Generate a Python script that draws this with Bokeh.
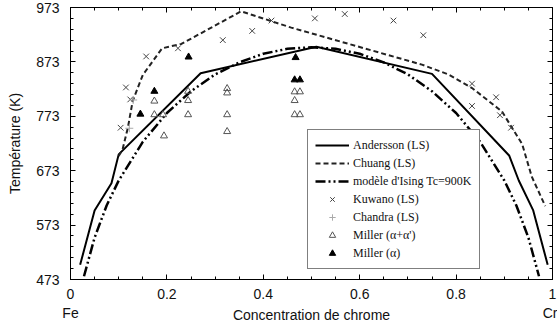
import numpy as np
from bokeh.plotting import figure
from bokeh.models import LinearAxis, FixedTicker, Range1d, Legend, LegendItem
from bokeh.embed import file_html
from bokeh.resources import INLINE

# ---- data ----
x_andersson = [0.02, 0.05, 0.085, 0.10, 0.27, 0.51, 0.75, 0.91, 0.93, 0.96, 0.99]
t_andersson = [500, 600, 650, 703, 852, 901, 851, 701, 655, 600, 500]

x_chuang = [0.10, 0.108, 0.119, 0.129, 0.15, 0.19, 0.23, 0.354, 0.458, 0.729, 0.784, 0.833, 0.895, 0.937, 0.957, 0.985]
t_chuang = [700, 712, 752, 801, 849, 898, 906, 966, 936, 868, 850, 825, 782, 722, 662, 608]

x_ising = [0.028, 0.05, 0.075, 0.10, 0.15, 0.20, 0.25, 0.30, 0.35, 0.40, 0.45, 0.50,
           0.55, 0.60, 0.65, 0.70, 0.75, 0.80, 0.85, 0.90, 0.925, 0.95, 0.972]
t_ising = [479, 550, 609, 655, 726, 779, 819, 850, 872, 888, 897, 900,
           897, 888, 872, 850, 819, 779, 726, 655, 609, 550, 479]

x_kuwano = [0.104, 0.115, 0.124, 0.157, 0.223, 0.316, 0.377, 0.417, 0.507, 0.569,
            0.67, 0.732, 0.833, 0.833, 0.883, 0.891, 0.914]
t_kuwano = [752, 826, 804, 883, 898, 913, 930, 949, 953, 961,
            949, 922, 833, 792, 808, 775, 752]

x_chandra = [0.122, 0.13]
t_chandra = [751, 803]

x_miller_aa = [0.174, 0.174, 0.192, 0.194, 0.244, 0.244, 0.244, 0.325, 0.325, 0.325,
               0.325, 0.465, 0.476, 0.465, 0.465, 0.476]
t_miller_aa = [801, 776, 776, 737, 819, 802, 776, 824, 816, 776,
               745, 818, 818, 802, 776, 776]

x_miller_a = [0.145, 0.174, 0.245, 0.467, 0.465, 0.476]
t_miller_a = [777, 819, 882, 881, 840, 840]

x_ticks = [0, 0.2, 0.4, 0.6, 0.8, 1]
x_tick_labels = ["0", "0.2", "0.4", "0.6", "0.8", "1"]
y_ticks = [473, 573, 673, 773, 873, 973]
y_tick_labels = ["473", "573", "673", "773", "873", "973"]
end_ticks = [0, 1]
end_labels = ["Fe", "Cr"]

FONT = "Liberation Sans"
SERIF = "Liberation Serif"

p = figure(width=557, height=331, output_backend="svg", toolbar_location=None,
           x_range=Range1d(0, 1), y_range=Range1d(473, 973),
           min_border_left=70, min_border_right=5, min_border_top=7, min_border_bottom=52)
p.xgrid.visible = False
p.ygrid.visible = False
p.outline_line_color = "black"
p.outline_line_width = 1
p.background_fill_color = "white"
p.border_fill_color = "white"

x_minor = list(np.round(np.arange(0, 1.0001, 0.05), 3))
y_minor = list(np.arange(473, 974, 20))
xt = FixedTicker(ticks=x_ticks, minor_ticks=x_minor)
yt = FixedTicker(ticks=y_ticks, minor_ticks=y_minor)

def style_axis(ax, labels=True):
    ax.axis_line_color = "black"
    ax.major_tick_in = 5
    ax.major_tick_out = 0
    ax.minor_tick_in = 3
    ax.minor_tick_out = 0
    ax.major_tick_line_color = "black"
    ax.minor_tick_line_color = "black"
    if labels:
        ax.major_label_text_font = FONT
        ax.major_label_text_font_size = "14px"
        ax.major_label_text_color = "#111111"
        ax.axis_label_text_font = FONT
        ax.axis_label_text_font_size = "14px"
        ax.axis_label_text_font_style = "normal"
        ax.axis_label_text_color = "#111111"
    else:
        ax.major_label_text_color = None
        ax.major_label_text_font_size = "1px"
        ax.major_label_standoff = 0

xa = p.xaxis[0]
xa.ticker = xt
xa.major_label_overrides = {t: l for t, l in zip(x_ticks, x_tick_labels)}
xa.axis_label = "Concentration de chrome"
style_axis(xa)
xa.major_label_standoff = 9
xa.axis_label_standoff = 5

ya = p.yaxis[0]
ya.ticker = yt
ya.major_label_overrides = {t: l for t, l in zip(y_ticks, y_tick_labels)}
ya.axis_label = "Température (K)"
style_axis(ya)
ya.major_label_standoff = 11
ya.axis_label_standoff = 10

ra = LinearAxis(ticker=yt)
style_axis(ra, labels=False)
p.add_layout(ra, "right")
ta = LinearAxis(ticker=xt)
style_axis(ta, labels=False)
p.add_layout(ta, "above")

# Fe / Cr end labels, on the same row as the axis title
fa = LinearAxis(ticker=FixedTicker(ticks=end_ticks, minor_ticks=[]),
                major_label_overrides={t: l for t, l in zip(end_ticks, end_labels)})
fa.axis_line_color = None
fa.major_tick_line_color = None
fa.minor_tick_line_color = None
fa.major_tick_in = 0
fa.major_tick_out = 0
fa.major_label_text_font = FONT
fa.major_label_text_font_size = "14px"
fa.major_label_text_color = "#111111"
fa.major_label_standoff = -21
p.add_layout(fa, "below")

r_and = p.line(x_andersson, t_andersson, line_color="black", line_width=2)
r_chu = p.line(x_chuang, t_chuang, line_color="#222222", line_width=2, line_dash="5 3")
r_isi = p.line(x_ising, t_ising, line_color="black", line_width=2.5, line_dash="10 3 2 3 2 3")

r_kuw = p.scatter(x_kuwano, t_kuwano, marker="x", size=8, line_color="#444444", line_width=1)
r_cha = p.scatter(x_chandra, t_chandra, marker="cross", size=8, line_color="#aaaaaa", line_width=1)
r_maa = p.scatter(x_miller_aa, t_miller_aa, marker="triangle", size=7, fill_color=None,
                  line_color="#555555", line_width=1)
r_ma = p.scatter(x_miller_a, t_miller_a, marker="triangle", size=7, fill_color="black",
                 line_color="black", line_width=1)

legend = Legend(items=[
    LegendItem(label="Andersson (LS)", renderers=[r_and]),
    LegendItem(label="Chuang (LS)", renderers=[r_chu]),
    LegendItem(label="modèle d'Ising Tc=900K", renderers=[r_isi]),
    LegendItem(label="Kuwano (LS)", renderers=[r_kuw]),
    LegendItem(label="Chandra (LS)", renderers=[r_cha]),
    LegendItem(label="Miller (α+α')", renderers=[r_maa]),
    LegendItem(label="Miller (α)", renderers=[r_ma]),
], location=(237, 10))
legend.label_text_font = SERIF
legend.label_text_font_size = "12px"
legend.label_text_color = "#111111"
legend.glyph_width = 34
legend.glyph_height = 16
legend.label_height = 16
legend.label_standoff = 4
legend.spacing = 2
legend.padding = 7
legend.margin = 0
legend.border_line_color = "black"
legend.border_line_width = 1
legend.background_fill_color = "white"
legend.background_fill_alpha = 1
p.add_layout(legend, "center")

open("out.html", "w").write(file_html(p, INLINE))
